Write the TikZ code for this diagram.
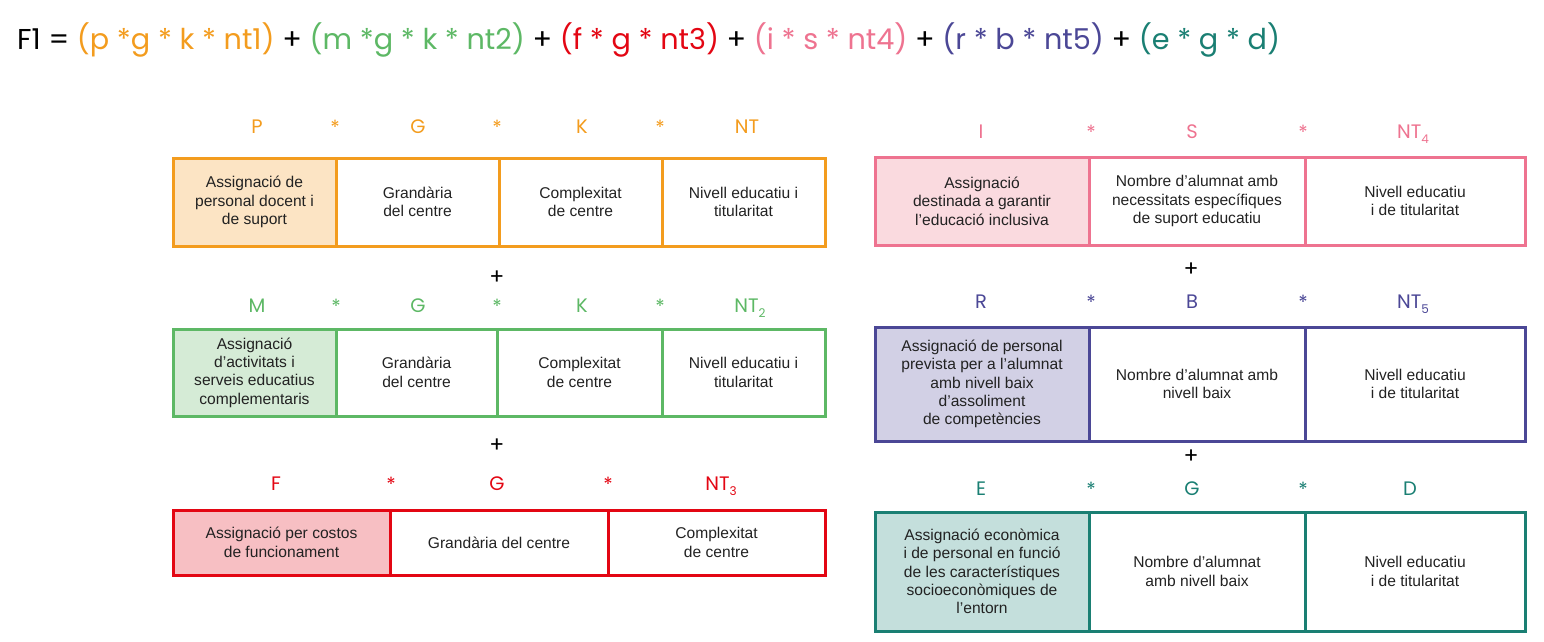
\documentclass[tikz,border=0pt]{standalone}
\usepackage{fontspec}
\setmainfont{Liberation Sans}
\newfontfamily\titlefont{Poppins}
\definecolor{cOr}{HTML}{F39C1E}
\definecolor{cGr}{HTML}{5DB865}
\definecolor{cRd}{HTML}{E30613}
\definecolor{cPk}{HTML}{EE7390}
\definecolor{cPu}{HTML}{4B4796}
\definecolor{cTe}{HTML}{1A7F73}
\definecolor{fOr}{HTML}{FCE4C4}
\definecolor{fGr}{HTML}{D5EBD6}
\definecolor{fRd}{HTML}{F7BFC3}
\definecolor{fPk}{HTML}{FADADF}
\definecolor{fPu}{HTML}{D2D0E5}
\definecolor{fTe}{HTML}{C4DFDC}
\definecolor{txt}{HTML}{222222}
\newcommand{\sbs}[1]{\raisebox{-0.45ex}{\fontsize{12}{12}\selectfont #1}}
\tikzset{
  cellbox/.style={draw=#1, line width=3pt, inner sep=2pt, align=center, text=txt,
    font=\fontsize{15.6}{18.4}\selectfont},
  lab/.style={text=#1, font=\titlefont\fontsize{19.5}{21}\selectfont, inner sep=0pt},
  plus/.style={text=black, font=\titlefont\fontsize{22}{22}\selectfont, inner sep=0pt},
}
\begin{document}
\begin{tikzpicture}[x=1pt,y=-1pt]
\useasboundingbox (0,0) rectangle (1544,641);
% title
\node[anchor=west, inner sep=0pt, font=\titlefont\fontsize{28.7}{32}\selectfont] (title) at (17,40)
 {F1 = \textcolor{cOr}{(p *g * k * nt1)} + \textcolor{cGr}{(m *g * k * nt2)} + \textcolor{cRd}{(f * g * nt3)} + \textcolor{cPk}{(i * s * nt4)} + \textcolor{cPu}{(r * b * nt5)} + \textcolor{cTe}{(e * g * d)}};

% ---------- left row 1 (orange)
\node[lab=cOr] (lp1) at (257,127) {P};
\node[lab=cOr] (ls1a) at (335,127.5) {*};
\node[lab=cOr] (lg1) at (418,127) {G};
\node[lab=cOr] (ls1b) at (497,127.5) {*};
\node[lab=cOr] (lk1) at (582,127) {K};
\node[lab=cOr] (ls1c) at (660,127.5) {*};
\node[lab=cOr] (lnt1) at (747,127) {NT};
\node[cellbox=cOr, fill=fOr, minimum width=163, minimum height=88] (p1) at (254.5,202) {Assignació de\\personal docent i\\de suport};
\node[cellbox=cOr, minimum width=163, minimum height=88] (g1) at (417.5,202) {Grandària\\del centre};
\node[cellbox=cOr, minimum width=163, minimum height=88] (k1) at (580.5,202) {Complexitat\\de centre};
\node[cellbox=cOr, minimum width=163, minimum height=88] (n1) at (743.5,202) {Nivell educatiu i\\titularitat};
\node[plus] (pl1) at (497,278) {+};

% ---------- left row 2 (green)
\node[lab=cGr] (lm2) at (257,306) {M};
\node[lab=cGr] (ls2a) at (336,306.5) {*};
\node[lab=cGr] (lg2) at (418,306) {G};
\node[lab=cGr] (ls2b) at (497,306.5) {*};
\node[lab=cGr] (lk2) at (582,306) {K};
\node[lab=cGr] (ls2c) at (660,306.5) {*};
\node[lab=cGr] (lnt2) at (750,308) {NT\sbs{2}};
\node[cellbox=cGr, fill=fGr, minimum width=163, minimum height=87] (m2) at (254.5,372.5) {Assignació\\d’activitats i\\serveis educatius\\complementaris};
\node[cellbox=cGr, minimum width=161, minimum height=87] (g2) at (416.5,372.5) {Grandària\\del centre};
\node[cellbox=cGr, minimum width=165, minimum height=87] (k2) at (579.5,372.5) {Complexitat\\de centre};
\node[cellbox=cGr, minimum width=163, minimum height=87] (n2) at (743.5,372.5) {Nivell educatiu i\\titularitat};
\node[plus] (pl2) at (497,446) {+};

% ---------- left row 3 (red)
\node[lab=cRd] (lf3) at (276,484) {F};
\node[lab=cRd] (ls3a) at (391,484.5) {*};
\node[lab=cRd] (lg3) at (497,484) {G};
\node[lab=cRd] (ls3b) at (608,484.5) {*};
\node[lab=cRd] (lnt3) at (721,486) {NT\sbs{3}};
\node[cellbox=cRd, fill=fRd, minimum width=217, minimum height=65] (f3) at (281.5,542.5) {Assignació per costos\\de funcionament};
\node[cellbox=cRd, minimum width=218, minimum height=65] (g3) at (499,542.5) {Grandària del centre};
\node[cellbox=cRd, minimum width=217, minimum height=65] (k3) at (716.5,542.5) {Complexitat\\de centre};

% ---------- right row 1 (pink)
\node[lab=cPk] (li4) at (981,132) {I};
\node[lab=cPk] (ls4a) at (1091,132.5) {*};
\node[lab=cPk] (ls4) at (1192,132) {S};
\node[lab=cPk] (ls4b) at (1303,132.5) {*};
\node[lab=cPk] (lnt4) at (1413,134) {NT\sbs{4}};
\node[cellbox=cPk, fill=fPk, minimum width=214, minimum height=88] (i4) at (982,201) {Assignació\\destinada a garantir\\l’educació inclusiva};
\node[cellbox=cPk, minimum width=216, minimum height=88] (s4) at (1197,201) {Nombre d’alumnat amb\\necessitats específiques\\de suport educatiu};
\node[cellbox=cPk, minimum width=220, minimum height=88] (n4) at (1415,201) {Nivell educatiu\\i de titularitat};
\node[plus] (pl3) at (1191,270) {+};

% ---------- right row 2 (purple)
\node[lab=cPu] (lr5) at (981,302) {R};
\node[lab=cPu] (ls5a) at (1091,302.5) {*};
\node[lab=cPu] (lb5) at (1192,302) {B};
\node[lab=cPu] (ls5b) at (1303,302.5) {*};
\node[lab=cPu] (lnt5) at (1413,304) {NT\sbs{5}};
\node[cellbox=cPu, fill=fPu, minimum width=214, minimum height=114] (r5) at (982,384) {Assignació de personal\\prevista per a l’alumnat\\amb nivell baix\\d’assoliment\\de competències};
\node[cellbox=cPu, minimum width=216, minimum height=114] (b5) at (1197,384) {Nombre d’alumnat amb\\nivell baix};
\node[cellbox=cPu, minimum width=220, minimum height=114] (n5) at (1415,384) {Nivell educatiu\\i de titularitat};
\node[plus] (pl4) at (1191,457) {+};

% ---------- right row 3 (teal)
\node[lab=cTe] (le6) at (981,489) {E};
\node[lab=cTe] (ls6a) at (1091,489.5) {*};
\node[lab=cTe] (lg6) at (1192,489) {G};
\node[lab=cTe] (ls6b) at (1303,489.5) {*};
\node[lab=cTe] (ld6) at (1410,489) {D};
\node[cellbox=cTe, fill=fTe, minimum width=214, minimum height=119] (e6) at (982,571.5) {Assignació econòmica\\i de personal en funció\\de les característiques\\socioeconòmiques de\\l’entorn};
\node[cellbox=cTe, minimum width=216, minimum height=119] (g6) at (1197,571.5) {Nombre d’alumnat\\amb nivell baix};
\node[cellbox=cTe, minimum width=220, minimum height=119] (d6) at (1415,571.5) {Nivell educatiu\\i de titularitat};
\end{tikzpicture}
\end{document}
